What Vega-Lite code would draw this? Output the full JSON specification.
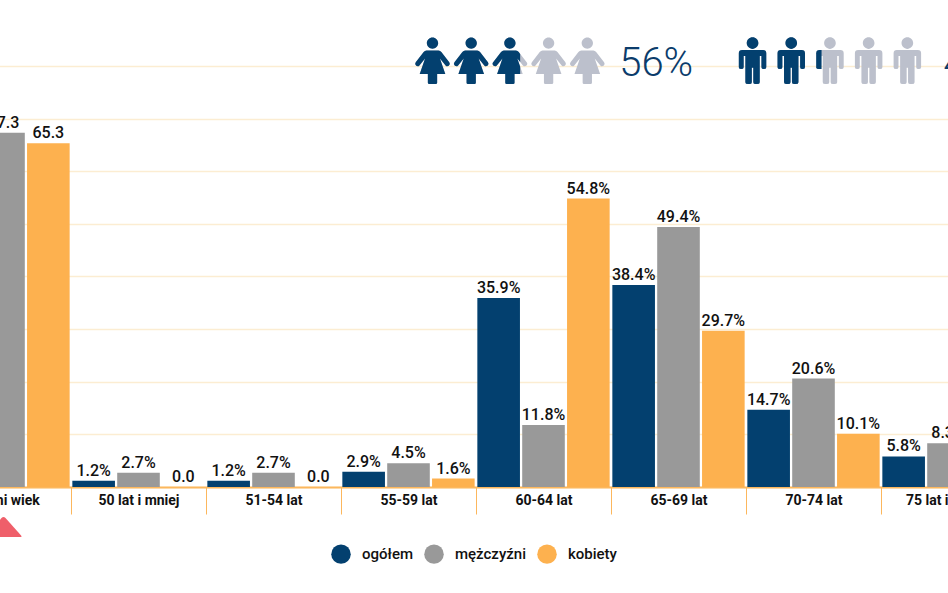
{"$schema":"https://vega.github.io/schema/vega-lite/v6.json","width":948,"height":487,"autosize":"none","padding":{"left":0,"top":0,"right":0,"bottom":106},"background":"#ffffff","config":{"view":{"stroke":null},"font":"Roboto"},
"layer":[
{"data":{"name":"bars","values":[
{"cat":"średni wiek","group":"ogółem","v":66.3,"label":"66.3"},{"cat":"średni wiek","group":"mężczyźni","v":67.3,"label":"67.3"},{"cat":"średni wiek","group":"kobiety","v":65.3,"label":"65.3"},
{"cat":"50 lat i mniej","group":"ogółem","v":1.2,"label":"1.2%"},{"cat":"50 lat i mniej","group":"mężczyźni","v":2.7,"label":"2.7%"},{"cat":"50 lat i mniej","group":"kobiety","v":0,"label":"0.0"},
{"cat":"51-54 lat","group":"ogółem","v":1.2,"label":"1.2%"},{"cat":"51-54 lat","group":"mężczyźni","v":2.7,"label":"2.7%"},{"cat":"51-54 lat","group":"kobiety","v":0,"label":"0.0"},
{"cat":"55-59 lat","group":"ogółem","v":2.9,"label":"2.9%"},{"cat":"55-59 lat","group":"mężczyźni","v":4.5,"label":"4.5%"},{"cat":"55-59 lat","group":"kobiety","v":1.6,"label":"1.6%"},
{"cat":"60-64 lat","group":"ogółem","v":35.9,"label":"35.9%"},{"cat":"60-64 lat","group":"mężczyźni","v":11.8,"label":"11.8%"},{"cat":"60-64 lat","group":"kobiety","v":54.8,"label":"54.8%"},
{"cat":"65-69 lat","group":"ogółem","v":38.4,"label":"38.4%"},{"cat":"65-69 lat","group":"mężczyźni","v":49.4,"label":"49.4%"},{"cat":"65-69 lat","group":"kobiety","v":29.7,"label":"29.7%"},
{"cat":"70-74 lat","group":"ogółem","v":14.7,"label":"14.7%"},{"cat":"70-74 lat","group":"mężczyźni","v":20.6,"label":"20.6%"},{"cat":"70-74 lat","group":"kobiety","v":10.1,"label":"10.1%"},
{"cat":"75 lat i więcej","group":"ogółem","v":5.8,"label":"5.8%"},{"cat":"75 lat i więcej","group":"mężczyźni","v":8.3,"label":"8.3%"},{"cat":"75 lat i więcej","group":"kobiety","v":3.6,"label":"3.6%"}
]},
"encoding":{
"x":{"field":"cat","type":"nominal","sort":null,"title":null,"scale":{"range":[-64,1016],"paddingInner":0,"paddingOuter":0},"axis":{"tickBand":"extent","domainColor":"#fcb75d","domainWidth":2,"tickColor":"#fcb75d","tickWidth":1,"tickSize":27,"labelAngle":0,"labelColor":"#111111","labelFont":"Roboto","labelFontSize":14,"labelFontWeight":700,"labelPadding":-21,"labelOverlap":false,"labelBound":false,"labelFlush":false,"grid":false}},
"xOffset":{"field":"group","type":"nominal","sort":null,"scale":{"domain":["ogółem","mężczyźni","kobiety"],"paddingInner":0.05,"paddingOuter":0.03}},
"y":{"field":"v","type":"quantitative","title":null,"scale":{"domain":[0,92.54],"nice":false,"zero":false},"axis":{"values":[0,10,20,30,40,50,60,70,80],"domain":false,"ticks":false,"labels":false,"grid":true,"gridColor":"#fcedd2","gridWidth":1.5}}
},
"layer":[
{"mark":{"type":"bar"},"encoding":{"color":{"field":"group","type":"nominal","title":null,"scale":{"domain":["ogółem","mężczyźni","kobiety"],"range":["#03406f","#999999","#fdb14f"]},"legend":{"orient":"none","legendX":331,"legendY":544,"direction":"horizontal","symbolType":"circle","symbolSize":380,"symbolStrokeWidth":0,"symbolOpacity":1,"labelFont":"Roboto","labelFontSize":15,"labelFontWeight":500,"labelColor":"#111111","labelOffset":11,"columnPadding":11,"title":null}}}},
{"mark":{"type":"text","baseline":"bottom","dy":-2,"fontSize":16,"fontWeight":500,"font":"Roboto","color":"#111111"},"encoding":{"text":{"field":"label"}}}
]},
{"data":{"name":"marker","values":[{"cat":"średni wiek","v":-7.6}]},
"mark":{"type":"point","filled":true,"opacity":1,"color":"#ef5f6a","size":1600,"shape":"M-.85 .5 Q-.93 .5 -.88 .42 L-.1 -.45 Q0 -.55 .1 -.45 L.88 .42 Q.93 .5 .85 .5 Z"},
"encoding":{"x":{"field":"cat","type":"nominal","sort":null,"scale":{"domain":["średni wiek","50 lat i mniej","51-54 lat","55-59 lat","60-64 lat","65-69 lat","70-74 lat","75 lat i więcej"],"range":[-64,1016],"paddingInner":0,"paddingOuter":0},"axis":null},"y":{"field":"v","type":"quantitative"}}},
{"data":{"name":"people","values":[
{"slot":1,"kind":"woman-light","v":81,"tier":0},{"slot":2,"kind":"woman-light","v":81,"tier":0},{"slot":3,"kind":"woman-light","v":81,"tier":0},{"slot":4,"kind":"woman-light","v":81,"tier":0},{"slot":5,"kind":"woman-light","v":81,"tier":0},
{"slot":1,"kind":"woman-dark","v":81,"tier":1},{"slot":2,"kind":"woman-dark","v":81,"tier":1},{"slot":3,"kind":"woman-part","v":81,"tier":1},
{"slot":9.27,"kind":"man-light","v":81,"tier":0},{"slot":10.27,"kind":"man-light","v":81,"tier":0},{"slot":11.27,"kind":"man-light","v":81,"tier":0},{"slot":12.27,"kind":"man-light","v":81,"tier":0},{"slot":13.27,"kind":"man-light","v":81,"tier":0},
{"slot":9.27,"kind":"man-dark","v":81,"tier":1},{"slot":10.27,"kind":"man-dark","v":81,"tier":1},{"slot":11.27,"kind":"man-part","v":81,"tier":1}
]},
"mark":{"type":"point","filled":true,"opacity":1,"size":2172},
"encoding":{
"x":{"field":"slot","type":"quantitative","scale":{"domain":[0,15],"range":[393.8,974.3],"nice":false,"zero":false},"axis":null},
"y":{"field":"v","type":"quantitative"},
"shape":{"field":"kind","type":"nominal","legend":null,"scale":{"domain":["woman-light","woman-dark","woman-part","man-light","man-dark","man-part"],"range":[
"M-.26 -.44 L.26 -.44 Q.33 -.44 .38 -.37 L.72 .06 Q.78 .14 .7 .22 Q.62 .27 .56 .2 L.32 -.1 L.55 .57 L.2 .57 L.2 .94 Q.2 1 .14 1 L-.14 1 Q-.2 1 -.2 .94 L-.2 .57 L-.55 .57 L-.32 -.1 L-.56 .2 Q-.62 .27 -.7 .22 Q-.78 .14 -.72 .06 L-.38 -.37 Q-.33 -.44 -.26 -.44 Z M-.243 -.757 A.243 .243 0 1 1 .243 -.757 A.243 .243 0 1 1 -.243 -.757 Z",
"M-.26 -.44 L.26 -.44 Q.33 -.44 .38 -.37 L.72 .06 Q.78 .14 .7 .22 Q.62 .27 .56 .2 L.32 -.1 L.55 .57 L.2 .57 L.2 .94 Q.2 1 .14 1 L-.14 1 Q-.2 1 -.2 .94 L-.2 .57 L-.55 .57 L-.32 -.1 L-.56 .2 Q-.62 .27 -.7 .22 Q-.78 .14 -.72 .06 L-.38 -.37 Q-.33 -.44 -.26 -.44 Z M-.243 -.757 A.243 .243 0 1 1 .243 -.757 A.243 .243 0 1 1 -.243 -.757 Z",
"M-.26 -.44 L.26 -.44 Q.33 -.44 .38 -.37 L.44 -.294 L.44 .05 L.32 -.1 L.44 .25 L.44 .57 L.2 .57 L.2 .94 Q.2 1 .14 1 L-.14 1 Q-.2 1 -.2 .94 L-.2 .57 L-.55 .57 L-.32 -.1 L-.56 .2 Q-.62 .27 -.7 .22 Q-.78 .14 -.72 .06 L-.38 -.37 Q-.33 -.44 -.26 -.44 Z M-.243 -.757 A.243 .243 0 1 1 .243 -.757 A.243 .243 0 1 1 -.243 -.757 Z",
"M-.45 -.46 L.45 -.46 Q.59 -.46 .59 -.32 L.59 .28 Q.59 .36 .485 .36 Q.38 .36 .38 .28 L.38 -.2 L.31 -.2 L.31 .92 Q.31 1 .2 1 L.13 1 Q.03 1 .03 .92 L.03 .3 L-.03 .3 L-.03 .92 Q-.03 1 -.13 1 L-.2 1 Q-.31 1 -.31 .92 L-.31 -.2 L-.38 -.2 L-.38 .28 Q-.38 .36 -.485 .36 Q-.59 .36 -.59 .28 L-.59 -.32 Q-.59 -.46 -.45 -.46 Z M-.25 -.757 A.25 .25 0 1 1 .25 -.757 A.25 .25 0 1 1 -.25 -.757 Z",
"M-.45 -.46 L.45 -.46 Q.59 -.46 .59 -.32 L.59 .28 Q.59 .36 .485 .36 Q.38 .36 .38 .28 L.38 -.2 L.31 -.2 L.31 .92 Q.31 1 .2 1 L.13 1 Q.03 1 .03 .92 L.03 .3 L-.03 .3 L-.03 .92 Q-.03 1 -.13 1 L-.2 1 Q-.31 1 -.31 .92 L-.31 -.2 L-.38 -.2 L-.38 .28 Q-.38 .36 -.485 .36 Q-.59 .36 -.59 .28 L-.59 -.32 Q-.59 -.46 -.45 -.46 Z M-.25 -.757 A.25 .25 0 1 1 .25 -.757 A.25 .25 0 1 1 -.25 -.757 Z",
"M-.36 -.46 L-.45 -.46 Q-.59 -.46 -.59 -.32 L-.59 .28 Q-.59 .36 -.485 .36 L-.36 .36 Z"
]}},
"color":{"field":"kind","type":"nominal","legend":null,"scale":{"domain":["woman-light","woman-dark","woman-part","man-light","man-dark","man-part"],"range":["#bcc0cc","#03406f","#03406f","#bcc0cc","#03406f","#03406f"]}},
"order":{"field":"tier","type":"quantitative","sort":"ascending"}
}},
{"data":{"name":"shares","values":[{"slot":6.78,"label":"56%","v":81},{"slot":15.15,"label":"44%","v":81}]},
"mark":{"type":"text","font":"Roboto","fontWeight":300,"fontSize":40,"color":"#0b3c6b","baseline":"middle","dy":3},
"encoding":{"x":{"field":"slot","type":"quantitative","scale":{"domain":[0,15],"range":[393.8,974.3],"nice":false,"zero":false},"axis":null},"y":{"field":"v","type":"quantitative"},"text":{"field":"label"}}}
],
"resolve":{"scale":{"x":"independent","color":"independent","shape":"independent"}}
}
